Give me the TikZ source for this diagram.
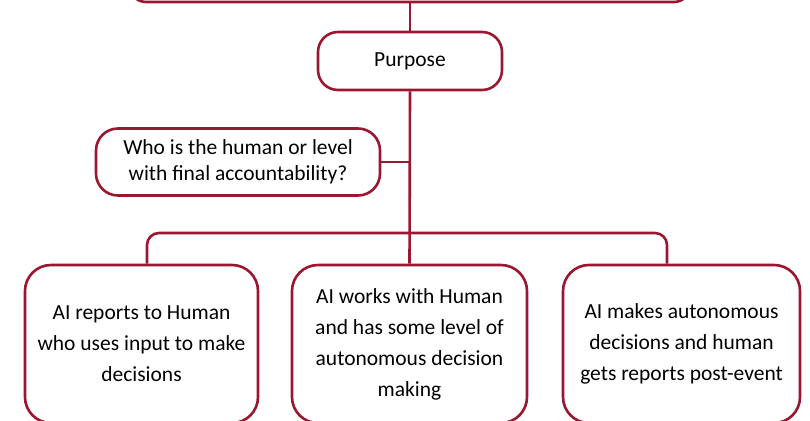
\documentclass[tikz,border=0pt]{standalone}
\usepackage{fontspec}
\setmainfont{Carlito}
\usepackage{tikz}
\usetikzlibrary{positioning}
\definecolor{wine}{RGB}{155,22,48}

\begin{document}
\begin{tikzpicture}[x=1pt, y=-1pt,
  box/.style={draw=wine, line width=2.6pt, rounded corners=22pt, fill=white, align=center, inner sep=0pt, font=\fontsize{21.5}{26}\selectfont},
  bigbox/.style={box, rounded corners=26pt, minimum height=158pt, font=\fontsize{21.5}{31}\selectfont},
  link/.style={draw=wine, line width=2.6pt}]
\useasboundingbox (0,0) rectangle (810,420);
\node[box, rounded corners=16pt, minimum width=560pt, minimum height=64pt] (top) at (410,-30) {};
\node[box, rounded corners=20pt, minimum width=184pt, minimum height=58pt] (purpose) at (410,61) {Purpose};
\node[box, minimum width=284pt, minimum height=67pt] (question) at (238,162) {Who is the human or level\\with final accountability?};
\node[bigbox, minimum width=233pt] (left) at (141.5,344) {AI reports to Human\\who uses input to make\\decisions};
\node[bigbox, minimum width=235pt] (mid) at (409.5,344) {AI works with Human\\and has some level of\\autonomous decision\\making};
\node[bigbox, minimum width=237pt] (right) at (681.5,344) {AI makes autonomous\\decisions and human\\gets reports post-event};
\coordinate (j) at (410,233);
\path[link] (top.south) -- (purpose.north);
\path[link] (purpose.south) -- (mid.north);
\path[link] (question.east) -- (question.east -| purpose.south);
\path[link, rounded corners=12pt] ([xshift=5.5pt]left.north) |- (j) -| ([xshift=-14.5pt]right.north);
\end{tikzpicture}
\end{document}
